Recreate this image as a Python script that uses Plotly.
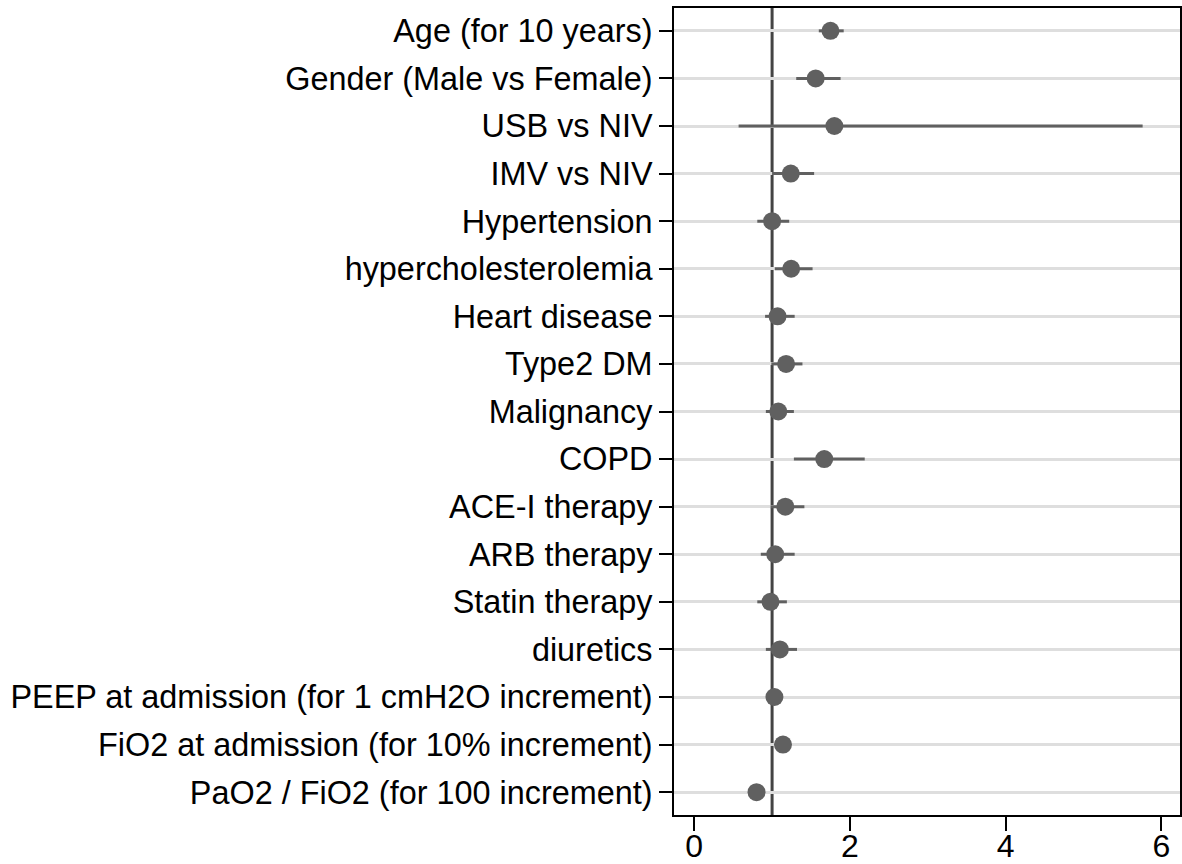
import plotly.graph_objects as go

# Переменные и отношения шансов с 95% ДИ
labels = [
    "Age (for 10 years)",
    "Gender (Male vs Female)",
    "USB vs NIV",
    "IMV vs NIV",
    "Hypertension",
    "hypercholesterolemia",
    "Heart disease",
    "Type2 DM",
    "Malignancy",
    "COPD",
    "ACE-I therapy",
    "ARB therapy",
    "Statin therapy",
    "diuretics",
    "PEEP at admission (for 1 cmH2O increment)",
    "FiO2 at admission (for 10% increment)",
    "PaO2 / FiO2 (for 100 increment)",
]
odds = [1.75, 1.56, 1.80, 1.24, 1.00, 1.245, 1.07, 1.18, 1.08, 1.67, 1.17, 1.04, 0.98, 1.10, 1.03, 1.14, 0.80]
ci_low = [1.60, 1.31, 0.57, 1.00, 0.81, 1.035, 0.91, 0.99, 0.92, 1.28, 0.98, 0.855, 0.81, 0.92, 1.00, 1.09, 0.74]
ci_high = [1.92, 1.88, 5.76, 1.54, 1.22, 1.52, 1.29, 1.39, 1.28, 2.19, 1.415, 1.29, 1.19, 1.32, 1.06, 1.19, 0.87]
x_ticks = [0, 2, 4, 6]

GRAY = "#606060"
FONT = "Liberation Sans, Arial, sans-serif"

fig = go.Figure()

fig.add_trace(
    go.Scatter(
        x=odds,
        y=labels,
        mode="markers",
        marker=dict(size=18, color=GRAY),
        error_x=dict(
            type="data",
            symmetric=False,
            array=[h - o for h, o in zip(ci_high, odds)],
            arrayminus=[o - l for o, l in zip(odds, ci_low)],
            width=0,
            thickness=3,
            color=GRAY,
        ),
        showlegend=False,
    )
)

# Линия отсчёта OR = 1
fig.add_shape(
    type="line",
    x0=1, x1=1, xref="x",
    y0=0, y1=1, yref="paper",
    line=dict(color="#444444", width=3),
    layer="between",
)

fig.update_layout(
    width=1182,
    height=864,
    plot_bgcolor="#ffffff",
    paper_bgcolor="#ffffff",
    margin=dict(l=674, r=2, t=8, b=49),
    font=dict(family=FONT, size=32, color="#000"),
    xaxis=dict(
        range=[-0.26, 6.24],
        tickvals=x_ticks,
        ticks="outside",
        ticklen=14,
        tickwidth=2,
        tickcolor="#000",
        showgrid=False,
        zeroline=False,
        showline=True,
        linecolor="#000",
        linewidth=2,
        mirror=True,
        tickfont=dict(size=32),
        ticklabelstandoff=-12,
        automargin=False,
    ),
    yaxis=dict(
        type="category",
        categoryorder="array",
        categoryarray=labels,
        range=[16.48, -0.48],
        ticks="outside",
        ticklen=13,
        tickwidth=2,
        tickcolor="#000",
        showgrid=True,
        gridcolor="#dedede",
        gridwidth=2.6,
        zeroline=False,
        showline=True,
        linecolor="#000",
        linewidth=2,
        mirror=True,
        tickfont=dict(size=32.4),
        ticklabelstandoff=0,
        automargin=False,
    ),
)

# убираем отступы body, чтобы график занимал всё окно
fig.write_html(
    "out.html",
    config={"displayModeBar": False},
    post_script="document.body.style.margin='0';document.body.style.overflow='hidden';",
)
